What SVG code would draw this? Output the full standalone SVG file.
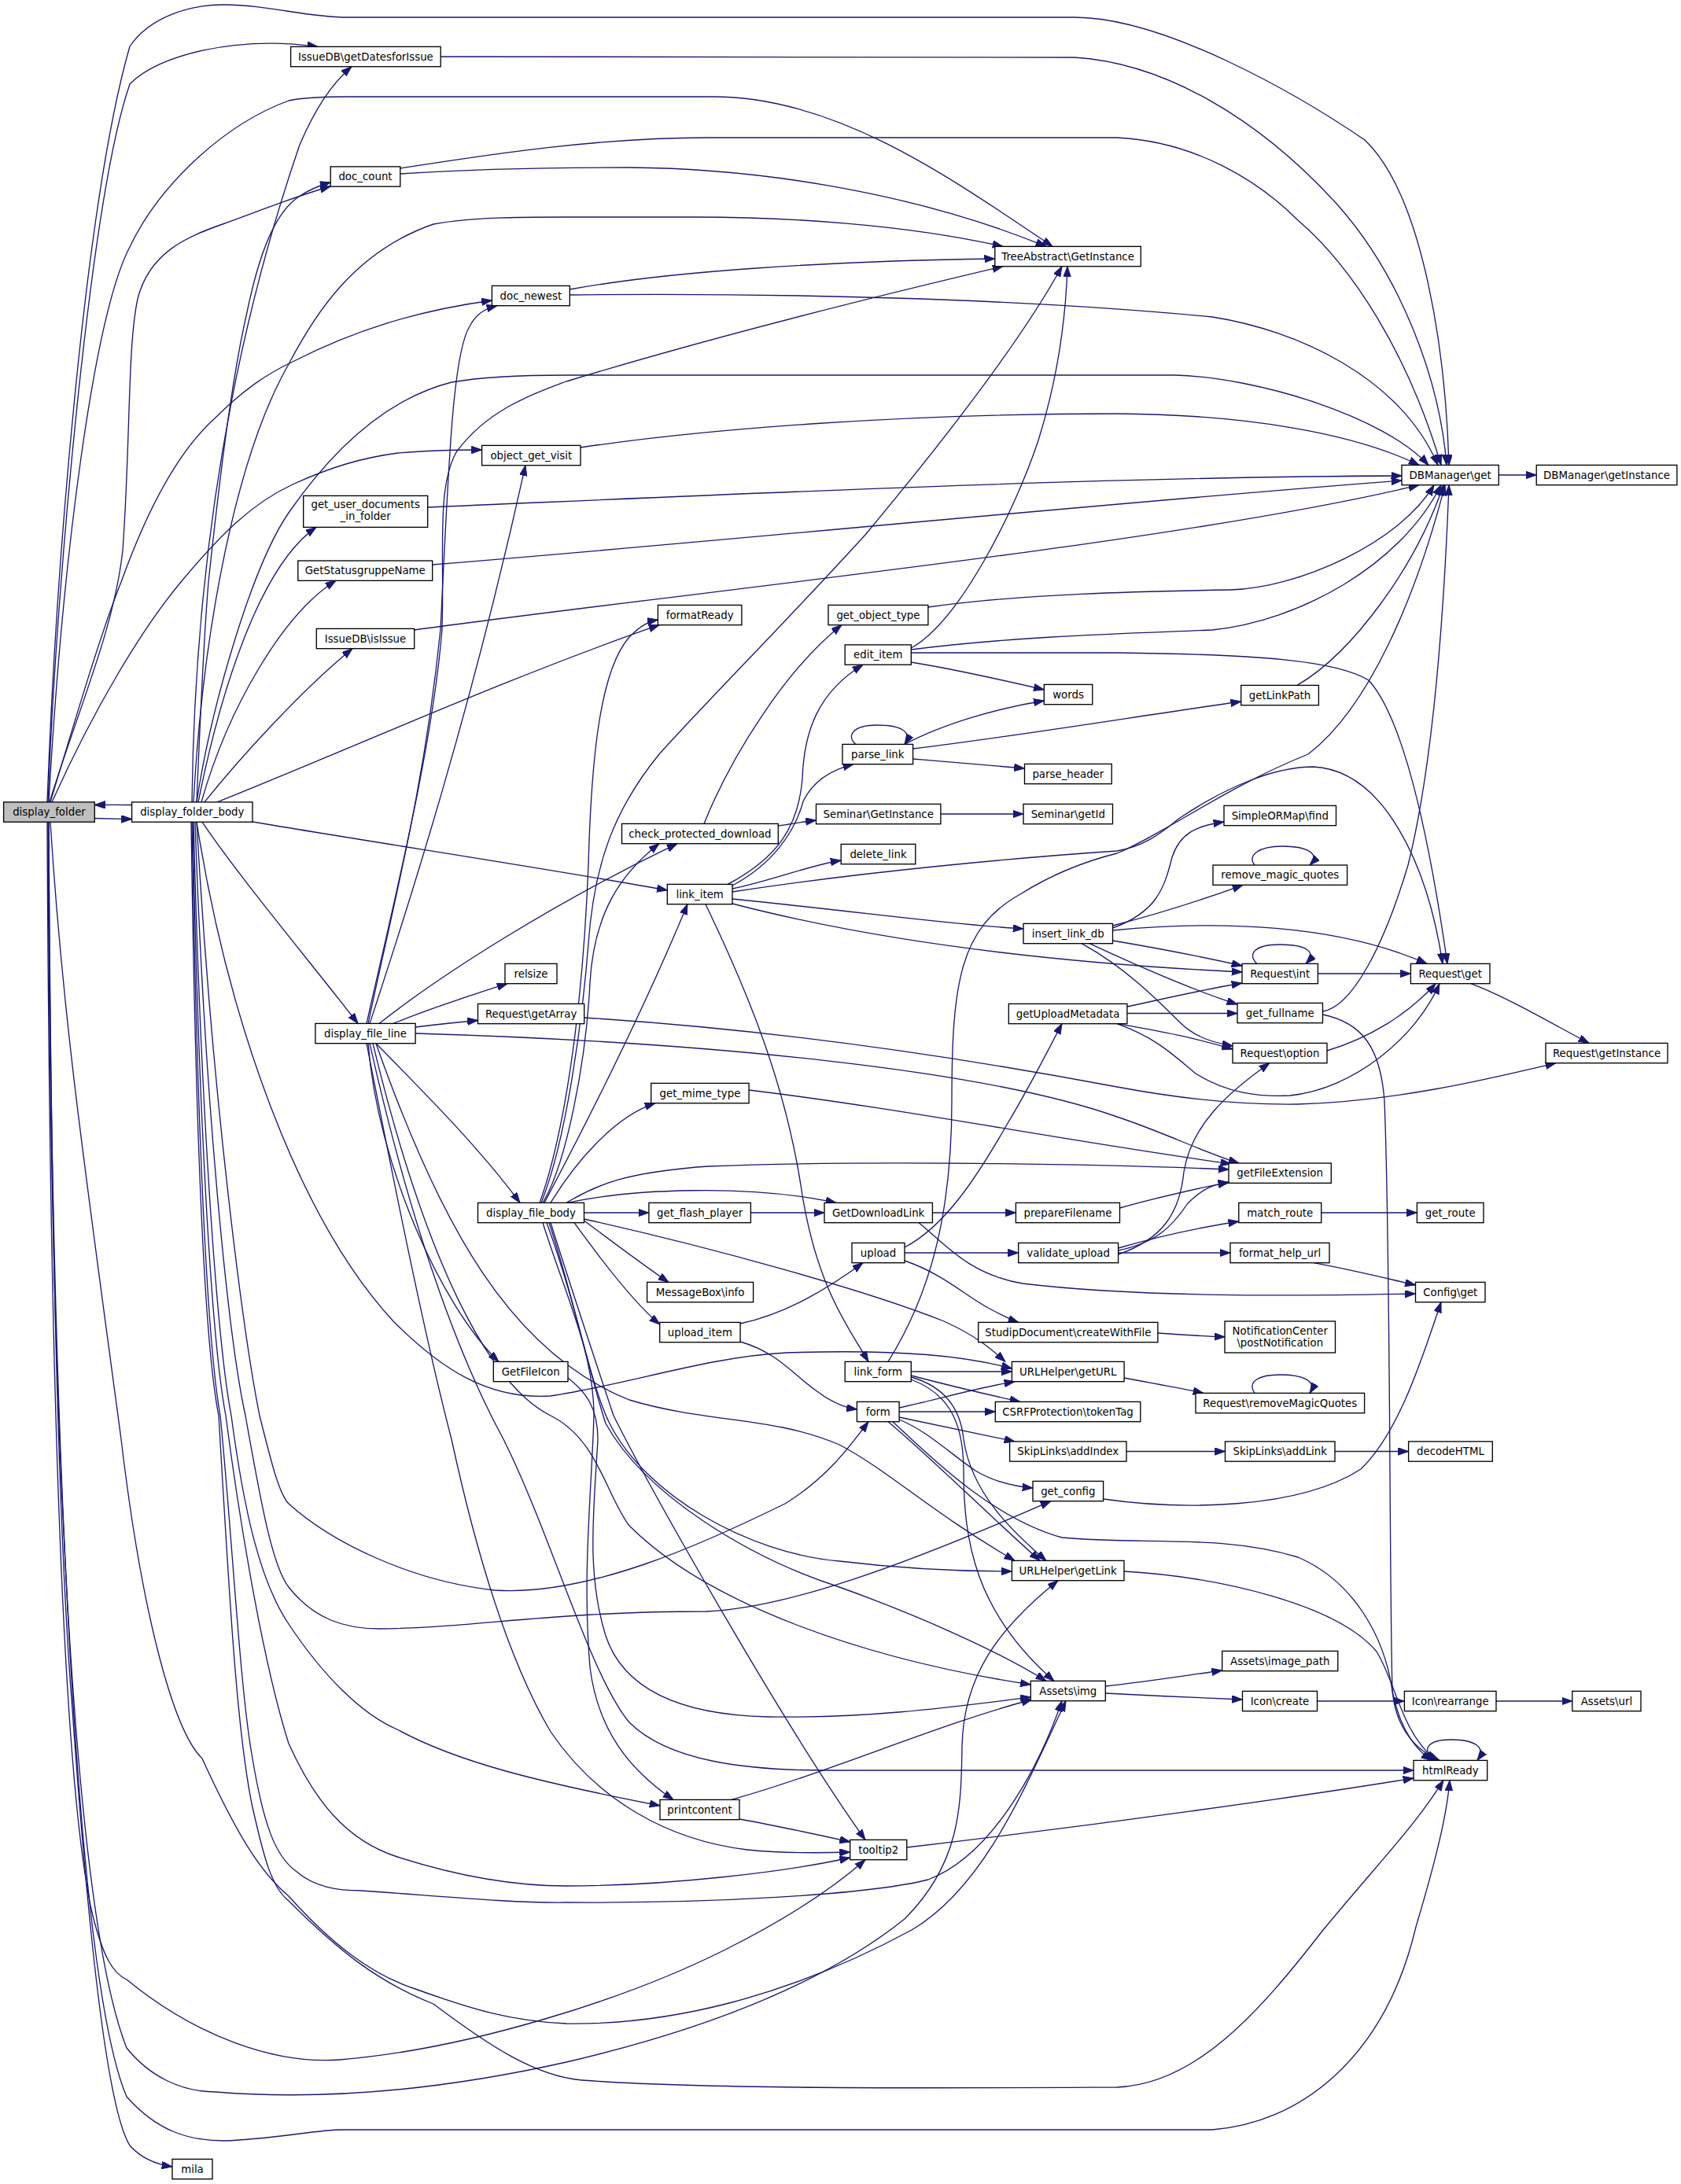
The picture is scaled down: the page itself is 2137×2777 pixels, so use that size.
<svg xmlns="http://www.w3.org/2000/svg" width="2137" height="2777" viewBox="0 0 2137 2777">
<defs>
<style>
.n rect{fill:#ffffff;stroke:#000000;stroke-width:1.33}
.n text{font-family:"DejaVu Sans","Liberation Sans",sans-serif;font-size:13.33px;text-anchor:middle;fill:#000000}
.r rect{fill:#bfbfbf}
#edges path{fill:none;stroke:#191970;stroke-width:1.33;marker-end:url(#a)}
</style>
<marker id="a" viewBox="0 0 14 10" markerWidth="14" markerHeight="10" refX="13.3" refY="4.7" orient="auto" markerUnits="userSpaceOnUse"><path d="M0,0 L13.3,4.7 L0,9.4 z" fill="#191970" stroke="#191970" stroke-width="1"/></marker>
</defs>
<rect x="0" y="0" width="2137" height="2777" fill="#ffffff"/>
<g id="edges">
<path d="M120.3,1040.5 C137,1040.8 152,1041.3 167.6,1041.5"/>
<path d="M167.6,1023.5 C152,1023.3 137,1023.3 120.3,1023.5"/>
<path d="M62,1045.2 C64,1400 70,1900 92,2174 C110,2430 135,2680 165,2728 C180,2745 198,2752 219,2755"/>
<path d="M60,1019.9 C72,700 110,250 165,59 C190,22 240,6 285,6 C340,6 390,22 441,22 L1366,22 C1480,22 1650,120 1735,178 C1810,250 1838,450 1842,591.4"/>
<path d="M61,1019.9 C71,750 115,250 165,107 C200,70 300,45 404,59.4"/>
<path d="M244,1019.9 C248,700 300,420 381,184 C400,140 420,108 447,84.7"/>
<path d="M62,1019.9 C80,700 120,400 165,314 C200,240 280,160 367,128 C390,123 420,123 441,123 L907,123 C1060,123 1200,220 1338,313.4"/>
<path d="M63,1019.9 C100,900 145,800 156,700 C166,560 162,440 175,380 C190,320 240,300 283,285 C330,268 380,248 420.2,237"/>
<path d="M250,1019.9 C255,900 260,800 265,740 C280,600 295,480 314,397 C330,320 350,270 380,250 C392,242 405,236 420.2,232"/>
<path d="M508.8,221 C600,215 720,213 800,213 C950,214 1150,240 1330,313.4"/>
<path d="M508.8,214 C600,200 750,175 900,175 L1420,175 C1520,180 1600,230 1650,280 C1720,340 1790,450 1832,591.4"/>
<path d="M246,1019.9 C258,800 300,580 367,463 C400,400 450,320 551,285 C600,276 660,276 720,276 L884,276 C1000,276 1150,285 1275,313.4"/>
<path d="M250,1019.9 C268,900 320,720 367,652 C410,590 480,510 574,486 C620,478 680,477 720,477 L1494,477 C1600,480 1760,530 1816,591.4"/>
<path d="M560.2,72 L1366,73 C1480,80 1600,150 1700,260 C1780,350 1830,480 1839,591.4"/>
<path d="M724.3,375 C1000,372 1300,380 1541,403 C1650,420 1780,480 1828,591.4"/>
<path d="M724.3,368 C850,345 1050,332 1264.8,329"/>
<path d="M64,1019.9 C100,900 130,800 154,740 C190,640 230,570 274,531 C310,495 340,475 372,460 C450,420 530,395 625.4,382"/>
<path d="M66,1019.9 C120,900 180,800 230,740 C280,680 320,640 372,616 C420,594 460,582 506,576 C540,573 575,572 612.6,572"/>
<path d="M468,1301.4 C500,1150 540,1000 560,800 C570,600 575,450 597,415 C605,400 615,393 632,388.7"/>
<path d="M470,1301.4 C520,1150 600,900 668,591.7"/>
<path d="M466,1301.4 C500,1150 550,950 562,800 C565,700 555,620 580,575 C620,520 680,500 720,485 C900,430 1100,380 1275,338.7"/>
<path d="M738,569 C900,545 1150,526 1420,526 C1580,527 1720,550 1804,591.4"/>
<path d="M543.7,645 C900,630 1400,606 1782,605"/>
<path d="M549.7,718 C900,690 1400,640 1782,611"/>
<path d="M526.7,801 C900,750 1500,690 1804,616.7"/>
<path d="M252,1019.9 C280,880 330,720 402,670.4"/>
<path d="M256,1019.9 C290,900 360,780 427,738.3"/>
<path d="M260,1019.9 C300,970 380,880 448,824.7"/>
<path d="M257,1045.2 C300,1110 400,1230 455,1301.4"/>
<path d="M276,1019.9 C450,950 650,860 838,794.7"/>
<path d="M321,1045 C500,1075 700,1105 848.3,1132"/>
<path d="M500,1301.4 C540,1285 600,1265 645,1250.7"/>
<path d="M528.1,1306 C560,1302 580,1300 607.5,1297.5"/>
<path d="M482,1301.4 C560,1240 700,1150 861,1072.7"/>
<path d="M478,1326.7 C540,1390 610,1460 661,1529.4"/>
<path d="M468,1326.7 C480,1480 560,1660 634,1731.4"/>
<path d="M528.1,1314 C900,1325 1250,1360 1420,1420 C1480,1440 1530,1465 1575,1479"/>
<path d="M466,1326.7 C500,1500 540,1700 574,1830 C600,1950 640,2100 700,2202 C760,2290 850,2340 950,2352 C1000,2357 1050,2356 1080.7,2355"/>
<path d="M470,1326.7 C520,1550 580,1720 640,1830 C700,1950 750,2130 800,2190 C850,2240 950,2251 1050,2251 L1797,2251"/>
<path d="M478,1326.7 C560,1560 650,1720 800,1780 C900,1810 980,1800 1067,1837 C1130,1870 1180,1920 1290,1984.4"/>
<path d="M474,1326.7 C540,1600 620,1760 700,1800 C760,1830 770,1900 800,1940 C900,2040 1100,2110 1310.3,2142"/>
<path d="M895,1047.4 C930,960 1000,850 1070,794.7"/>
<path d="M989.3,1050 C1010,1047 1020,1045 1037.5,1043"/>
<path d="M1179.9,772 C1300,755 1450,752 1564,750 C1650,748 1780,690 1823,616.7"/>
<path d="M1158.3,824 C1220,790 1290,650 1320,560 C1345,480 1355,400 1357,338.7"/>
<path d="M1158.3,826 C1300,808 1450,805 1541,801 C1650,790 1780,720 1832,616.7"/>
<path d="M1158.3,830 L1420,830 C1600,832 1700,840 1740,865 C1790,920 1822,1100 1840,1225.4"/>
<path d="M1158.3,842 C1220,852 1280,866 1327.3,877"/>
<path d="M1150,946.4 C1200,920 1270,900 1327.3,891"/>
<path d="M1160.6,952 C1300,935 1450,910 1577.7,892"/>
<path d="M1160.6,965 C1210,969 1260,973 1302.5,977"/>
<path d="M1088,946.4 C1075,935 1085,922 1115,922 C1145,922 1160,930 1150,946.4"/>
<path d="M1649,871.4 C1720,830 1800,720 1835,616.7"/>
<path d="M1195.9,1035 L1301,1035"/>
<path d="M931,1130 C980,1120 1030,1100 1069.2,1094"/>
<path d="M925,1124.4 C990,1090 1015,1050 1020,990 C1022,930 1040,880 1097,845.2"/>
<path d="M931,1126 C980,1100 1010,1060 1021,1019 C1035,990 1060,978 1085,971.7"/>
<path d="M931,1134 C1100,1108 1300,1090 1420,1082 C1460,1075 1480,1055 1500,1040 C1560,1000 1620,975 1670,975 C1760,980 1815,1100 1834,1225.4"/>
<path d="M1129,1731.4 C1180,1650 1210,1550 1210,1400 C1210,1250 1220,1180 1297,1137 C1340,1110 1380,1095 1420,1085 C1480,1060 1560,1000 1663,959 C1740,900 1800,760 1837,616.7"/>
<path d="M931,1143 C1100,1160 1200,1175 1301,1181"/>
<path d="M931,1149 C1050,1180 1250,1220 1579,1236"/>
<path d="M897,1149.7 C950,1260 1000,1380 1020,1520 C1040,1640 1080,1690 1104,1731.4"/>
<path d="M1414.5,1180 C1470,1160 1480,1130 1490,1090 C1500,1060 1520,1050 1556,1045"/>
<path d="M1414.5,1177 C1480,1160 1540,1140 1580,1125.3"/>
<path d="M1414.5,1183 C1550,1170 1700,1175 1814,1225.4"/>
<path d="M1414.5,1196 C1480,1207 1530,1217 1579,1228"/>
<path d="M1385,1199.7 C1450,1230 1520,1260 1573,1277"/>
<path d="M1375,1199.7 C1430,1230 1470,1270 1500,1300 C1520,1320 1545,1326 1567,1330"/>
<path d="M1432.9,1280 C1480,1270 1530,1258 1579,1250"/>
<path d="M1432.9,1288.5 L1573,1288.5"/>
<path d="M1420,1301.7 C1480,1312 1520,1320 1567,1334"/>
<path d="M1420,1301.7 C1470,1320 1490,1340 1520,1365 C1560,1390 1600,1395 1640,1393 C1720,1385 1800,1320 1830,1250.7"/>
<path d="M1598,1225.4 C1585,1213 1595,1201 1627,1201 C1660,1201 1675,1210 1660,1225.4"/>
<path d="M1675.4,1238 L1793.4,1238"/>
<path d="M1681.5,1286 C1720,1280 1760,1200 1790,1100 C1820,980 1835,800 1842,616.7"/>
<path d="M1681.5,1290 C1730,1300 1755,1330 1760,1400 C1768,1600 1766,2000 1770,2150 C1775,2200 1800,2225 1830,2238.4"/>
<path d="M1687,1336 C1740,1320 1790,1290 1825,1250.7"/>
<path d="M1870,1250.7 C1920,1270 1970,1300 2020,1326.4"/>
<path d="M742.7,1294 C1000,1310 1250,1350 1420,1382 C1500,1397 1580,1405 1650,1404 C1780,1400 1900,1370 1978,1351.7"/>
<path d="M1905.3,604 L1953.2,604"/>
<path d="M1595,1100 C1585,1088 1600,1076 1630,1076 C1660,1076 1680,1085 1665,1100"/>
<path d="M1185.4,1542 L1291.4,1542"/>
<path d="M1168,1554.7 C1200,1580 1230,1620 1300,1632 C1450,1650 1650,1648 1799.5,1645"/>
<path d="M1423.5,1536 C1480,1520 1520,1512 1562,1503"/>
<path d="M954.4,1542 L1048,1542"/>
<path d="M1150,1586 C1200,1560 1240,1500 1280,1430 C1310,1380 1330,1340 1350,1301.7"/>
<path d="M1150,1593 L1294.7,1593"/>
<path d="M1150,1603 C1200,1620 1230,1650 1260,1665 C1275,1673 1285,1678 1295,1681.4"/>
<path d="M1421.6,1587 C1480,1570 1530,1560 1574.8,1553"/>
<path d="M1421.6,1593 L1564,1593"/>
<path d="M1421.6,1590 C1470,1580 1490,1560 1510,1530 C1530,1510 1545,1505 1562,1504"/>
<path d="M1421.6,1595 C1480,1575 1500,1540 1505,1490 C1515,1430 1560,1390 1614,1351.7"/>
<path d="M1679.7,1542 L1801.4,1542"/>
<path d="M1670,1605.7 C1720,1615 1760,1625 1799.5,1634"/>
<path d="M1471.9,1695 C1500,1697 1530,1699 1557,1700"/>
<path d="M941.1,1683 C1000,1670 1050,1640 1097,1605.7"/>
<path d="M941.1,1706 C990,1720 1010,1750 1040,1770 C1060,1785 1075,1790 1089.4,1792"/>
<path d="M1158.3,1744 L1286.4,1744"/>
<path d="M1158.3,1749 C1200,1760 1250,1772 1297,1782.4"/>
<path d="M1158.3,1751 C1190,1760 1220,1780 1225,1830 C1235,1900 1290,1950 1330,1984.4"/>
<path d="M1158.3,1754 C1200,1770 1225,1800 1225,1870 C1225,1960 1240,2050 1340,2137.4"/>
<path d="M1143.1,1790 C1190,1780 1240,1765 1290,1756.7"/>
<path d="M1143.1,1795 L1265.3,1795"/>
<path d="M1143.1,1802 C1190,1812 1240,1822 1290,1832.9"/>
<path d="M1143.1,1805 C1180,1820 1210,1850 1240,1870 C1265,1885 1290,1890 1313,1892"/>
<path d="M1129,1807.7 C1180,1850 1250,1920 1322,1984.4"/>
<path d="M1135,1807.7 C1180,1850 1260,1930 1350,1955 C1450,1965 1550,1950 1650,1980 C1720,2010 1760,2080 1770,2150 C1780,2200 1800,2225 1820,2238.4"/>
<path d="M1429.1,1752 C1460,1758 1500,1765 1530,1771.4"/>
<path d="M1595,1771.4 C1585,1757 1600,1748 1627,1748 C1655,1748 1675,1755 1665,1771.4"/>
<path d="M1432,1845.5 L1557.5,1845.5"/>
<path d="M1697,1845.5 L1790.6,1845.5"/>
<path d="M1402.6,1906 C1500,1920 1650,1920 1730,1868 C1780,1820 1810,1720 1832,1655.7"/>
<path d="M1429,1998 C1550,2005 1700,2040 1750,2100 C1775,2140 1780,2200 1825,2238.4"/>
<path d="M1405.3,2144 C1460,2138 1510,2130 1553.7,2124"/>
<path d="M1405.3,2153 C1460,2156 1530,2159 1579.5,2161"/>
<path d="M1674.5,2163 L1785.4,2163"/>
<path d="M1902,2163 L1998.8,2163"/>
<path d="M1825,2238.4 C1805,2225 1815,2212 1845,2212 C1875,2212 1890,2222 1878,2238.4"/>
<path d="M929.6,2288.4 C1050,2255 1200,2190 1312,2161"/>
<path d="M940,2313 C990,2322 1040,2333 1080.7,2342"/>
<path d="M1152.8,2349 C1400,2320 1650,2285 1797,2261"/>
<path d="M722,1752 C745,1770 760,1790 760,1830 C755,1920 745,2000 770,2080 C790,2140 850,2180 976,2183 C1100,2185 1200,2172 1310.3,2158"/>
<path d="M690,1554.7 C720,1650 755,1720 755,1800 C752,1900 740,2000 750,2120 C760,2200 800,2250 856,2288.4"/>
<path d="M700,1554.7 C730,1650 760,1740 780,1800 C830,1900 1000,2200 1100,2339.4"/>
<path d="M695,1554.7 C730,1650 750,1750 770,1810 C820,1900 950,1980 1067,2018 C1170,2055 1270,2100 1330,2137.4"/>
<path d="M698,1554.7 C730,1650 750,1760 775,1810 C820,1900 950,1975 1067,1985 C1150,1995 1220,1998 1286.4,1998"/>
<path d="M742.5,1550 C900,1585 1100,1640 1200,1680 C1240,1698 1260,1715 1278,1731.4"/>
<path d="M690,1529.4 C720,1480 745,1350 750,1250 C755,1160 790,1110 838,1072.7"/>
<path d="M688,1529.4 C720,1450 740,1300 748,1200 C755,1100 780,1030 838,959 C900,890 1000,790 1100,680 C1200,560 1300,430 1350,338.7"/>
<path d="M686,1529.4 C715,1450 740,1300 748,1100 C752,950 765,850 800,810 C815,795 825,790 836.4,788"/>
<path d="M692,1529.4 C750,1420 820,1280 874,1149.7"/>
<path d="M700,1529.4 C730,1480 780,1420 833,1402.7"/>
<path d="M720,1529.4 C760,1505 800,1490 900,1483 C1100,1475 1400,1480 1562,1487"/>
<path d="M722,1529.4 C800,1512 950,1505 1063,1529.4"/>
<path d="M742.5,1542 L824.9,1542"/>
<path d="M742.5,1552 C780,1580 820,1610 850,1630.4"/>
<path d="M730,1554.7 C770,1610 810,1660 838.7,1684"/>
<path d="M952.1,1386 C1150,1410 1350,1450 1565,1480"/>
<path d="M250,1045.2 C270,1400 310,1700 330,1800 C345,1860 355,1900 367,1912 C420,1960 520,2010 629,2022 C750,2030 900,1960 998,1912 C1050,1880 1080,1840 1104,1807.7"/>
<path d="M248,1045.2 C260,1400 290,1700 312,1800 C330,1900 345,1990 367,2018 C400,2060 440,2071 482,2071 C600,2070 700,2049 897,2049 C1000,2045 1150,1990 1336,1908.7"/>
<path d="M246,1045.2 C255,1400 275,1700 294,1800 C310,1920 330,2010 367,2065 C410,2130 460,2180 505,2199 C580,2240 680,2265 839,2296"/>
<path d="M245,1045.2 C252,1400 268,1700 287,1800 C300,1900 330,2100 367,2217 C400,2290 440,2340 505,2361 C580,2385 650,2398 720,2398 C850,2398 1000,2380 1080.7,2362"/>
<path d="M244,1045.2 C250,1400 262,1700 280,1800 C295,1950 305,2150 321,2236 C335,2320 350,2360 376,2379 C400,2400 430,2404 459,2404 C550,2410 650,2420 720,2419 C900,2420 1100,2410 1180,2390 C1260,2360 1320,2250 1350,2162.7"/>
<path d="M243,1045.2 C248,1400 258,1700 278,1800 C290,2000 300,2200 321,2298 C335,2360 345,2400 367,2417 C430,2480 480,2520 551,2548 C620,2600 680,2640 740,2645 C900,2657 1200,2655 1420,2654 C1520,2650 1600,2560 1682,2454 C1760,2360 1800,2320 1835,2263.7"/>
<path d="M250,1045.2 C290,1300 380,1550 500,1680 C560,1740 620,1780 700,1775 C800,1760 900,1725 1000,1720 C1150,1715 1230,1725 1286.4,1740"/>
<path d="M60,1045.2 C62,1500 70,2200 115,2423 C130,2490 145,2510 161,2517 C250,2590 350,2625 432,2619 C600,2605 800,2540 920,2480 C1000,2440 1060,2400 1100,2364.7"/>
<path d="M61,1045.2 C63,1600 80,2400 161,2604 C190,2640 230,2660 275,2660 C400,2670 550,2660 720,2622 C900,2580 1050,2520 1150,2440 C1220,2370 1222,2300 1223,2220 C1225,2130 1270,2070 1345,2009.7"/>
<path d="M62,1045.2 C64,1700 90,2500 161,2666 C200,2710 240,2722 285,2722 C350,2720 400,2708 436,2708 L1541,2708 C1650,2700 1760,2620 1800,2450 C1830,2350 1840,2300 1843,2263.7"/>
<path d="M64,1045.2 C80,1300 110,1500 154,1830 C180,2050 220,2200 257,2236 C300,2330 330,2380 367,2411 C420,2470 470,2510 528,2529 C600,2555 650,2570 720,2573 C850,2575 1000,2540 1159,2454 C1250,2400 1300,2280 1355,2162.7"/>
</g>
<g id="n0" class="n r"><rect x="4.6" y="1019.9" width="115.7" height="25.3"/><text x="62.5" y="1037.2">display_folder</text></g>
<g id="n1" class="n"><rect x="167.6" y="1019.9" width="153.4" height="25.3"/><text x="244.3" y="1037.2">display_folder_body</text></g>
<g id="n2" class="n"><rect x="369.6" y="59.4" width="190.6" height="25.3"/><text x="464.9" y="76.7">IssueDB\getDatesforIssue</text></g>
<g id="n3" class="n"><rect x="420.2" y="211.9" width="88.6" height="25.3"/><text x="464.5" y="229.2">doc_count</text></g>
<g id="n4" class="n"><rect x="385.7" y="630.4" width="158" height="40"/><text x="464.7" y="646">get_user_documents</text><text x="464.7" y="661">_in_folder</text></g>
<g id="n5" class="n"><rect x="378.8" y="713" width="170.9" height="25.3"/><text x="464.25" y="730.3">GetStatusgruppeName</text></g>
<g id="n6" class="n"><rect x="402.3" y="799.4" width="124.4" height="25.3"/><text x="464.5" y="816.7">IssueDB\isIssue</text></g>
<g id="n7" class="n"><rect x="400.9" y="1301.4" width="127.2" height="25.3"/><text x="464.5" y="1318.7">display_file_line</text></g>
<g id="n8" class="n"><rect x="625.4" y="363.4" width="98.9" height="25.3"/><text x="674.85" y="380.7">doc_newest</text></g>
<g id="n9" class="n"><rect x="612.6" y="566.4" width="125.4" height="25.3"/><text x="675.3" y="583.7">object_get_visit</text></g>
<g id="n10" class="n"><rect x="642" y="1225.4" width="66" height="25.3"/><text x="675" y="1242.7">relsize</text></g>
<g id="n11" class="n"><rect x="607.5" y="1276.4" width="135.2" height="25.3"/><text x="675.1" y="1293.7">Request\getArray</text></g>
<g id="n12" class="n"><rect x="607.5" y="1529.4" width="135" height="25.3"/><text x="675" y="1546.7">display_file_body</text></g>
<g id="n13" class="n"><rect x="627.3" y="1731.4" width="94.7" height="25.3"/><text x="674.65" y="1748.7">GetFileIcon</text></g>
<g id="n14" class="n"><rect x="836.4" y="769.4" width="106.5" height="25.3"/><text x="889.65" y="786.7">formatReady</text></g>
<g id="n15" class="n"><rect x="790.5" y="1047.4" width="198.8" height="25.3"/><text x="889.9" y="1064.7">check_protected_download</text></g>
<g id="n16" class="n"><rect x="848.3" y="1124.4" width="82.7" height="25.3"/><text x="889.65" y="1141.7">link_item</text></g>
<g id="n17" class="n"><rect x="827.7" y="1377.4" width="124.4" height="25.3"/><text x="889.9" y="1394.7">get_mime_type</text></g>
<g id="n18" class="n"><rect x="824.9" y="1529.4" width="129.5" height="25.3"/><text x="889.65" y="1546.7">get_flash_player</text></g>
<g id="n19" class="n"><rect x="822.6" y="1630.4" width="135" height="25.3"/><text x="890.1" y="1647.7">MessageBox\info</text></g>
<g id="n20" class="n"><rect x="838.7" y="1681.4" width="102.4" height="25.3"/><text x="889.9" y="1698.7">upload_item</text></g>
<g id="n21" class="n"><rect x="839" y="2288.4" width="101" height="25.3"/><text x="889.5" y="2305.7">printcontent</text></g>
<g id="n22" class="n"><rect x="1053" y="769.4" width="126.9" height="25.3"/><text x="1116.45" y="786.7">get_object_type</text></g>
<g id="n23" class="n"><rect x="1074.2" y="819.9" width="84.1" height="25.3"/><text x="1116.25" y="837.2">edit_item</text></g>
<g id="n24" class="n"><rect x="1071" y="946.4" width="89.6" height="25.3"/><text x="1115.8" y="963.7">parse_link</text></g>
<g id="n25" class="n"><rect x="1037.5" y="1022.4" width="158.4" height="25.3"/><text x="1116.7" y="1039.7">Seminar\GetInstance</text></g>
<g id="n26" class="n"><rect x="1069.2" y="1073.4" width="94.6" height="25.3"/><text x="1116.5" y="1090.7">delete_link</text></g>
<g id="n27" class="n"><rect x="1048" y="1529.4" width="137.4" height="25.3"/><text x="1116.7" y="1546.7">GetDownloadLink</text></g>
<g id="n28" class="n"><rect x="1083" y="1580.4" width="67" height="25.3"/><text x="1116.5" y="1597.7">upload</text></g>
<g id="n29" class="n"><rect x="1074.2" y="1731.4" width="84.1" height="25.3"/><text x="1116.25" y="1748.7">link_form</text></g>
<g id="n30" class="n"><rect x="1089.4" y="1782.4" width="53.7" height="25.3"/><text x="1116.25" y="1799.7">form</text></g>
<g id="n31" class="n"><rect x="1080.7" y="2339.4" width="72.1" height="25.3"/><text x="1116.75" y="2356.7">tooltip2</text></g>
<g id="n32" class="n"><rect x="1264.8" y="313.4" width="185.5" height="25.3"/><text x="1357.55" y="330.7">TreeAbstract\GetInstance</text></g>
<g id="n33" class="n"><rect x="1327.3" y="870.4" width="61.5" height="25.3"/><text x="1358.05" y="887.7">words</text></g>
<g id="n34" class="n"><rect x="1302.5" y="971.4" width="110.7" height="25.3"/><text x="1357.85" y="988.7">parse_header</text></g>
<g id="n35" class="n"><rect x="1301" y="1022.4" width="113.5" height="25.3"/><text x="1357.75" y="1039.7">Seminar\getId</text></g>
<g id="n36" class="n"><rect x="1301" y="1174.4" width="113.5" height="25.3"/><text x="1357.75" y="1191.7">insert_link_db</text></g>
<g id="n37" class="n"><rect x="1282.3" y="1276.4" width="150.6" height="25.3"/><text x="1357.6" y="1293.7">getUploadMetadata</text></g>
<g id="n38" class="n"><rect x="1291.4" y="1529.4" width="132.1" height="25.3"/><text x="1357.45" y="1546.7">prepareFilename</text></g>
<g id="n39" class="n"><rect x="1294.7" y="1580.4" width="126.9" height="25.3"/><text x="1358.15" y="1597.7">validate_upload</text></g>
<g id="n40" class="n"><rect x="1243.7" y="1681.4" width="228.2" height="25.3"/><text x="1357.8" y="1698.7">StudipDocument\createWithFile</text></g>
<g id="n41" class="n"><rect x="1286.4" y="1731.4" width="142.7" height="25.3"/><text x="1357.75" y="1748.7">URLHelper\getURL</text></g>
<g id="n42" class="n"><rect x="1265.3" y="1782.4" width="184.5" height="25.3"/><text x="1357.55" y="1799.7">CSRFProtection\tokenTag</text></g>
<g id="n43" class="n"><rect x="1283.6" y="1832.9" width="148.4" height="25.3"/><text x="1357.8" y="1850.2">SkipLinks\addIndex</text></g>
<g id="n44" class="n"><rect x="1313" y="1883.4" width="89.6" height="25.3"/><text x="1357.8" y="1900.7">get_config</text></g>
<g id="n45" class="n"><rect x="1286.4" y="1984.4" width="142.6" height="25.3"/><text x="1357.7" y="2001.7">URLHelper\getLink</text></g>
<g id="n46" class="n"><rect x="1310.3" y="2137.4" width="95" height="25.3"/><text x="1357.8" y="2154.7">Assets\img</text></g>
<g id="n47" class="n"><rect x="1577.7" y="871.4" width="98.7" height="25.3"/><text x="1627.05" y="888.7">getLinkPath</text></g>
<g id="n48" class="n"><rect x="1556" y="1024.4" width="142.5" height="25.3"/><text x="1627.25" y="1041.7">SimpleORMap\find</text></g>
<g id="n49" class="n"><rect x="1542" y="1100" width="170.6" height="25.3"/><text x="1627.3" y="1117.3">remove_magic_quotes</text></g>
<g id="n50" class="n"><rect x="1579" y="1225.4" width="96.4" height="25.3"/><text x="1627.2" y="1242.7">Request\int</text></g>
<g id="n51" class="n"><rect x="1573" y="1275.4" width="108.5" height="25.3"/><text x="1627.25" y="1292.7">get_fullname</text></g>
<g id="n52" class="n"><rect x="1567" y="1326.4" width="120" height="25.3"/><text x="1627" y="1343.7">Request\option</text></g>
<g id="n53" class="n"><rect x="1562" y="1479" width="130.3" height="25.3"/><text x="1627.15" y="1496.3">getFileExtension</text></g>
<g id="n54" class="n"><rect x="1574.8" y="1529.4" width="104.9" height="25.3"/><text x="1627.25" y="1546.7">match_route</text></g>
<g id="n55" class="n"><rect x="1564" y="1580.4" width="126" height="25.3"/><text x="1627" y="1597.7">format_help_url</text></g>
<g id="n56" class="n"><rect x="1557" y="1680" width="140.5" height="40"/><text x="1627.25" y="1697">NotificationCenter</text><text x="1627.25" y="1712">\postNotification</text></g>
<g id="n57" class="n"><rect x="1520" y="1771.4" width="214.6" height="25.3"/><text x="1627.3" y="1788.7">Request\removeMagicQuotes</text></g>
<g id="n58" class="n"><rect x="1557.5" y="1832.9" width="139.5" height="25.3"/><text x="1627.25" y="1850.2">SkipLinks\addLink</text></g>
<g id="n59" class="n"><rect x="1553.7" y="2099.4" width="147.1" height="25.3"/><text x="1627.25" y="2116.7">Assets\image_path</text></g>
<g id="n60" class="n"><rect x="1579.5" y="2150.4" width="95" height="25.3"/><text x="1627" y="2167.7">Icon\create</text></g>
<g id="n61" class="n"><rect x="1782" y="591.4" width="123.3" height="25.3"/><text x="1843.65" y="608.7">DBManager\get</text></g>
<g id="n62" class="n"><rect x="1793.4" y="1225.4" width="100.6" height="25.3"/><text x="1843.7" y="1242.7">Request\get</text></g>
<g id="n63" class="n"><rect x="1801.4" y="1529.4" width="84.6" height="25.3"/><text x="1843.7" y="1546.7">get_route</text></g>
<g id="n64" class="n"><rect x="1799.5" y="1630.4" width="88.5" height="25.3"/><text x="1843.75" y="1647.7">Config\get</text></g>
<g id="n65" class="n"><rect x="1790.6" y="1832.9" width="106.7" height="25.3"/><text x="1843.95" y="1850.2">decodeHTML</text></g>
<g id="n66" class="n"><rect x="1785.4" y="2150.4" width="116.6" height="25.3"/><text x="1843.7" y="2167.7">Icon\rearrange</text></g>
<g id="n67" class="n"><rect x="1797" y="2238.4" width="93.7" height="25.3"/><text x="1843.85" y="2255.7">htmlReady</text></g>
<g id="n68" class="n"><rect x="1953.2" y="591.4" width="178.7" height="25.3"/><text x="2042.55" y="608.7">DBManager\getInstance</text></g>
<g id="n69" class="n"><rect x="1965" y="1326.4" width="155" height="25.3"/><text x="2042.5" y="1343.7">Request\getInstance</text></g>
<g id="n70" class="n"><rect x="1998.8" y="2150.4" width="87.2" height="25.3"/><text x="2042.4" y="2167.7">Assets\url</text></g>
<g id="n71" class="n"><rect x="219" y="2745.4" width="51" height="25.3"/><text x="244.5" y="2762.7">mila</text></g>
</svg>
